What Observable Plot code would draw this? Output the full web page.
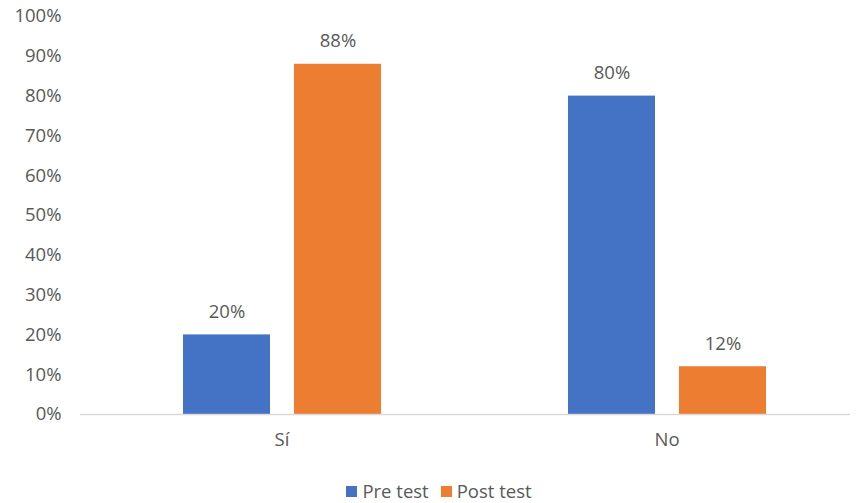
<!DOCTYPE html>
<html>
<head>
<meta charset="utf-8">
<script src="https://cdn.jsdelivr.net/npm/d3@7"></script>
<script src="https://cdn.jsdelivr.net/npm/@observablehq/plot@0.6"></script>
<style>
  body { margin: 0; background: white; }
  #chart svg { display: block; }
  #legend { display: flex; justify-content: center; align-items: center; gap: 12px; height: 35px; padding-left: 22px; padding-top: 11px; box-sizing: border-box; width: 856px;
    font-family: "Open Sans", sans-serif; font-size: 18.5px; line-height: 22px; color: #595959; }
  .item { display: flex; align-items: center; gap: 5px; }
  .sw { width: 11px; height: 11px; display: inline-block; }
</style>
</head>
<body>
<div id="chart"></div>
<div id="legend"></div>
<script>
const categories = ["Sí", "No"];
const series = ["Pre test", "Post test"];
const preTest = [0.20, 0.80];
const postTest = [0.88, 0.12];
const yTicks = [0, 0.1, 0.2, 0.3, 0.4, 0.5, 0.6, 0.7, 0.8, 0.9, 1.0];
const colors = ["#4472C4", "#ED7D31"];

const data = categories.flatMap((c, i) => [
  {category: c, series: series[0], value: preTest[i]},
  {category: c, series: series[1], value: postTest[i]}
]);
const pct = d => Math.round(d * 100) + "%";

const chart = Plot.plot({
  width: 856,
  height: 468,
  marginLeft: 80,
  marginRight: 6,
  marginTop: 16,
  marginBottom: 54,
  style: {fontFamily: "'Open Sans', sans-serif", fontSize: "18.5px", color: "#595959", background: "white"},
  fx: {domain: categories, padding: 0, label: null},
  x: {domain: series, paddingInner: 0.214, paddingOuter: 0.826, align: 0.551, axis: null},
  y: {domain: [0, 1], label: null},
  color: {domain: series, range: colors},
  marks: [
    Plot.axisY({ticks: yTicks, tickFormat: pct, tickSize: 0, tickPadding: 19, label: null, fill: "#595959"}),
    Plot.axisFx({anchor: "bottom", tickSize: 0, tickPadding: 18, dx: 9, label: null, fill: "#595959"}),
    Plot.barY(data, {fx: "category", x: "series", y: "value", fill: "series"}),
    Plot.text(data, {fx: "category", x: "series", y: "value", text: d => pct(d.value), dy: -23, lineAnchor: "middle", fill: "#595959"}),
    Plot.ruleY([0], {stroke: "#d9d9d9", strokeWidth: 1.5})
  ]
});
document.getElementById("chart").appendChild(chart);

const legend = document.getElementById("legend");
series.forEach((s, i) => {
  const item = document.createElement("span");
  item.className = "item";
  const sw = document.createElement("span");
  sw.className = "sw";
  sw.style.background = colors[i];
  item.appendChild(sw);
  item.appendChild(document.createTextNode(s));
  legend.appendChild(item);
});
</script>
</body>
</html>
